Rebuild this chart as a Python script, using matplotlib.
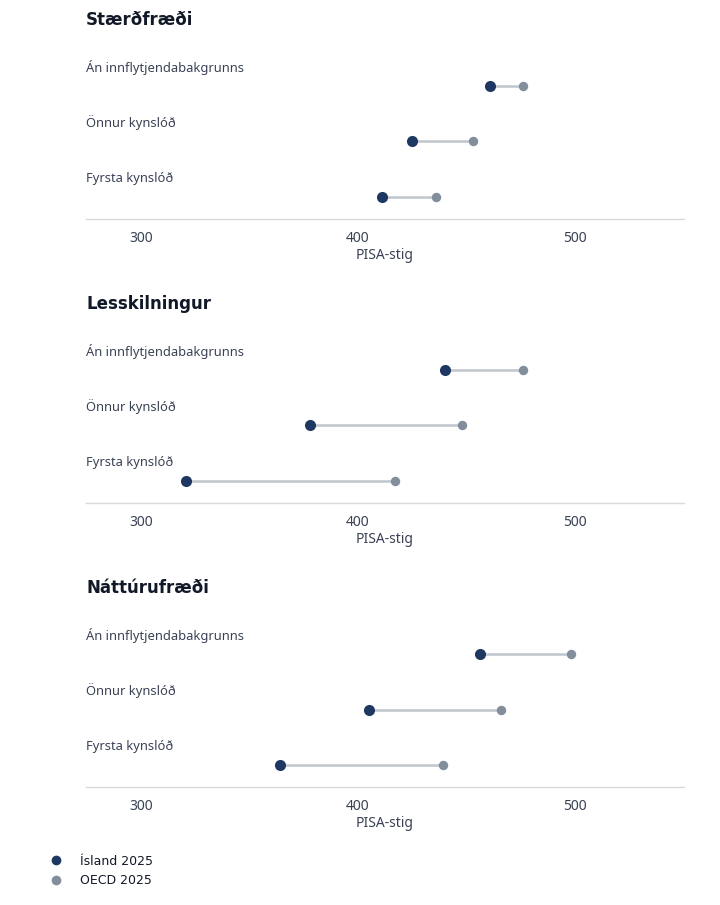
import matplotlib
matplotlib.use("Agg")
import matplotlib.pyplot as plt
from matplotlib.lines import Line2D
import matplotlib.transforms as mtransforms

panels = ["Stærðfræði", "Lesskilningur", "Náttúrufræði"]
categories = ["Án innflytjendabakgrunns", "Önnur kynslóð", "Fyrsta kynslóð"]
island_2025 = [
    [461, 425, 411],
    [440, 378, 321],
    [456, 405, 364],
]
oecd_2025 = [
    [476, 453, 436],
    [476, 448, 417],
    [498, 466, 439],
]
xticks = [300, 400, 500]
xlabel = "PISA-stig"
legend_labels = ["Ísland 2025", "OECD 2025"]

C_IS = "#1f3861"
C_OECD = "#838e9c"
C_LINE = "#c3c8d0"
C_TEXT = "#3a4255"
C_TITLE = "#111827"

W, H = 720, 905
fig = plt.figure(figsize=(W / 100, H / 100), dpi=100)

period = 284
for p, title in enumerate(panels):
    bottom_px = 219 + p * period
    top_px = 45 + p * period
    ax = fig.add_axes([86 / W, 1 - bottom_px / H, (684 - 86) / W, (bottom_px - top_px) / H])
    ys = list(range(len(categories)))
    for i, cat in enumerate(categories):
        ax.plot([island_2025[p][i], oecd_2025[p][i]], [i, i], color=C_LINE, lw=1.9,
                solid_capstyle="butt", zorder=1)
    ax.plot(oecd_2025[p], ys, "o", color=C_OECD, ms=6.8, zorder=2, mec="none")
    ax.plot(island_2025[p], ys, "o", color=C_IS, ms=8, zorder=3, mec="none")
    ax.set_xlim(274.7, 550.2)
    rows_px = 55.5
    ax.set_ylim(2 + 22 / rows_px, 2 + 22 / rows_px - (bottom_px - top_px) / rows_px)
    trans = mtransforms.blended_transform_factory(ax.transAxes, ax.transData)
    for i, cat in enumerate(categories):
        ax.text(0, i - 18.5 / rows_px, cat, transform=trans, ha="left", va="center",
                fontsize=9.3, color=C_TEXT, family="Noto Sans")
    ax.set_yticks([])
    ax.set_xticks(xticks)
    ax.set_xticklabels([str(t) for t in xticks], family="Noto Sans", fontsize=10, color=C_TEXT)
    ax.tick_params(axis="x", length=0, pad=8.5)
    ax.set_xlabel(xlabel, family="Noto Sans", fontsize=10, color=C_TEXT, labelpad=1.5)
    for s in ["top", "left", "right"]:
        ax.spines[s].set_visible(False)
    ax.spines["bottom"].set_color("#d9d9d9")
    ax.spines["bottom"].set_linewidth(1)
    fig.text(86 / W, 1 - (20 + p * period) / H, title, ha="left", va="center",
             fontsize=12, fontweight="bold", color=C_TITLE, family="DejaVu Sans")

handles = [
    Line2D([], [], marker="o", ls="none", color=C_IS, ms=7, mec="none"),
    Line2D([], [], marker="o", ls="none", color=C_OECD, ms=7, mec="none"),
]
fig.legend(handles, legend_labels, loc="center left", bbox_to_anchor=(43 / W, 1 - 871 / H),
           frameon=False, fontsize=9, handletextpad=1.0, labelspacing=0.55,
           borderaxespad=0, borderpad=0, labelcolor=C_TITLE)

fig.savefig("out.png", dpi=100)
